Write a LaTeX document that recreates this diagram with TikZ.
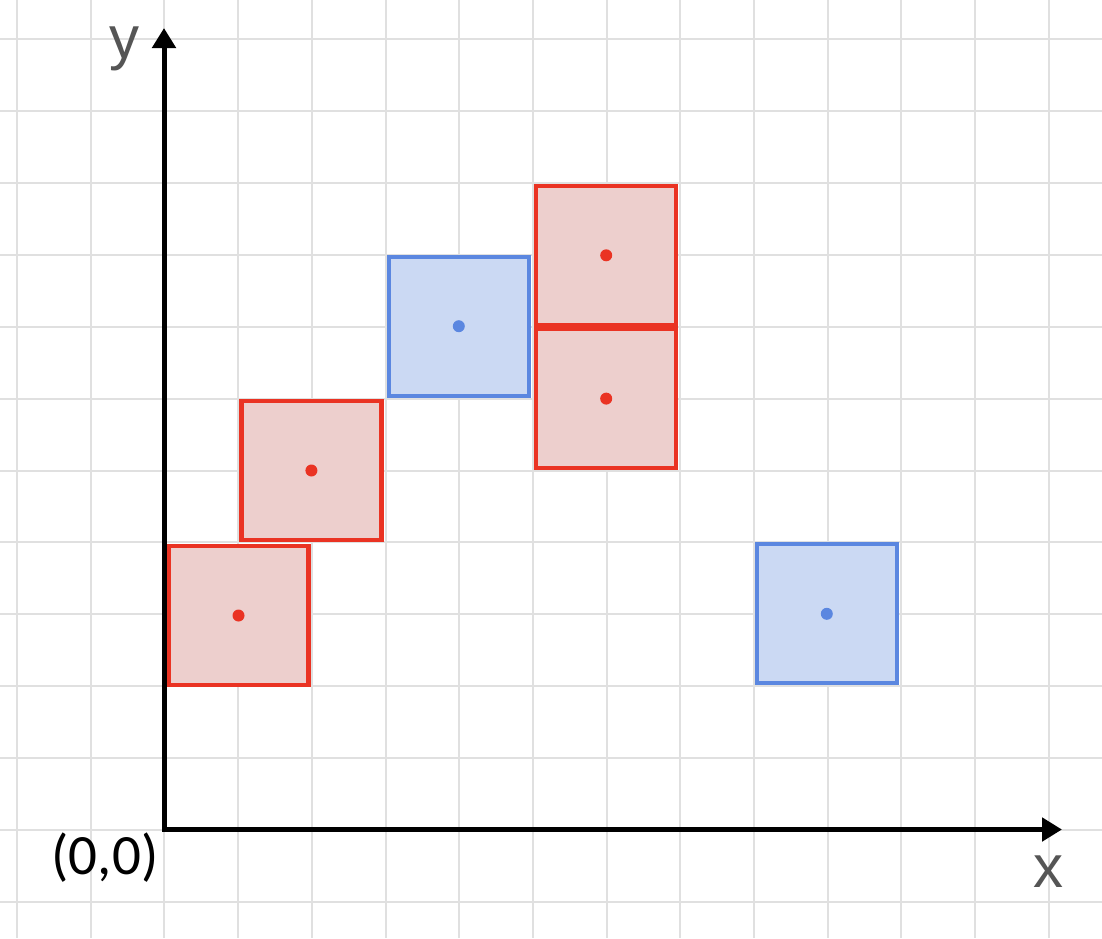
\documentclass[tikz,border=0pt]{standalone}
\usepackage{fontspec}
\setmainfont{Liberation Sans}
\newfontfamily\carl{Carlito}
\usetikzlibrary{arrows.meta}
\definecolor{gridc}{RGB}{224,224,224}
\definecolor{redline}{RGB}{234,51,35}
\definecolor{redfill}{RGB}{237,207,205}
\definecolor{blueline}{RGB}{91,135,224}
\definecolor{bluefill}{RGB}{203,217,243}
\definecolor{labgray}{RGB}{85,85,85}
\tikzset{
  gridline/.style={draw=gridc, line width=2pt},
  sq/.style={rectangle, minimum width=140pt, minimum height=139pt, inner sep=0pt, outer sep=0pt, line width=4.3pt},
  redsq/.style={sq, draw=redline, fill=redfill},
  bluesq/.style={sq, draw=blueline, fill=bluefill},
  axisline/.style={line width=5pt, black, {Triangle[width=23pt,length=20pt]}-{Triangle[width=23pt,length=20pt]}},
  axlab/.style={text=labgray, font=\fontsize{60}{60}\selectfont, inner sep=0pt, anchor=base},
}
\begin{document}
\begin{tikzpicture}[x=1pt,y=-1pt]
\useasboundingbox (0,0) rectangle (1102,938);
\fill[white] (0,0) rectangle (1102,938);
\foreach \i in {0,...,14} \draw[gridline] ({17+73.7*\i},0) -- ({17+73.7*\i},938);
\foreach \j in {0,...,12} \draw[gridline] (0,{39+71.92*\j}) -- (1102,{39+71.92*\j});
% squares
\node[redsq] (r1) at (238.5,615.5) {};
\node[redsq] (r2) at (311.4,470.5) {};
\node[bluesq] (b1) at (458.8,326.2) {};
\node[redsq] (r3) at (606.2,255.3) {};
\node[redsq] (r4) at (606.2,398.6) {};
\node[bluesq] (b2) at (826.8,613.8) {};
\foreach \n in {r1,r2,r3,r4} \fill[redline] (\n.center) circle (6);
\foreach \n in {b1,b2} \fill[blueline] (\n.center) circle (6);
% axes
\coordinate (O) at (164,829.5);
\coordinate (ytip) at (164,28);
\coordinate (xtip) at (1062,829.5);
\draw[axisline] (ytip) -- (O) -- (xtip);
\node[axlab] (ylab) at (124,58) {y};
\node[axlab] (xlab) at (1048,887) {x};
\node[font=\carl\fontsize{57}{57}\selectfont, inner sep=0pt, text=black] (olab) at (105,857.5) {(0,0)};
\end{tikzpicture}
\end{document}
